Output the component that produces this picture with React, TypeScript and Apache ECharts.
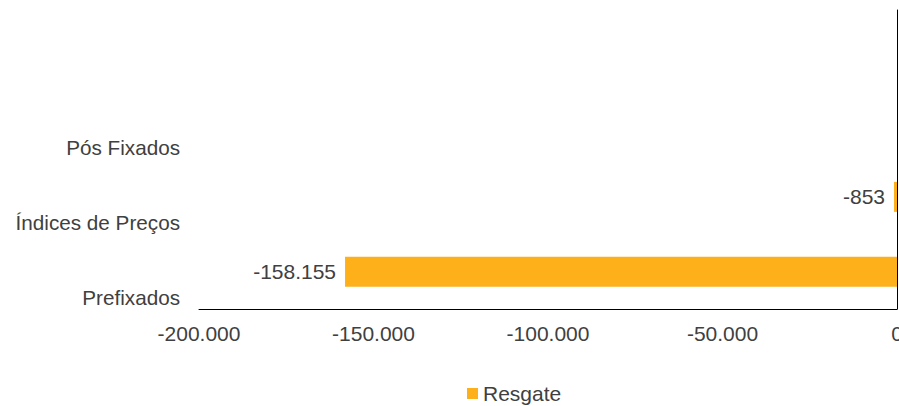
import React, { useEffect, useRef } from "react";
import * as echarts from "echarts";

const categories = ["Prefixados", "Índices de Preços", "Pós Fixados", ""];
const resgate: (number | null)[] = [-158155, -853, null, null];
const xTicks = { min: -200000, max: 0, interval: 50000 };
const seriesName = "Resgate";

const fmt = (v: number) => {
  const s = Math.abs(Math.round(v)).toString().replace(/\B(?=(\d{3})+(?!\d))/g, ".");
  return (v < 0 ? "-" : "") + s;
};

export default function App() {
  const ref = useRef<HTMLDivElement>(null);
  useEffect(() => {
    document.body.style.margin = "0";
    const chart = echarts.init(ref.current!, null, { renderer: "svg" });
    const font = "Liberation Sans, Arial, sans-serif";
    chart.setOption({
      animation: false,
      textStyle: { fontFamily: font },
      grid: { left: 199, right: 2, top: 10, bottom: 97, containLabel: false, outerBoundsMode: "none" },
      legend: {
        data: [seriesName],
        top: 378,
        left: 462,
        padding: [5, 5, 0, 5],
        itemWidth: 11,
        itemHeight: 11,
        itemGap: 6,
        icon: "rect",
        textStyle: { fontSize: 21, color: "#404040", fontFamily: font },
      },
      xAxis: {
        type: "value",
        min: xTicks.min,
        max: xTicks.max,
        interval: xTicks.interval,
        axisLine: { show: true, onZero: false, lineStyle: { color: "#000", width: 1 } },
        axisTick: { show: false },
        splitLine: { show: false },
        axisLabel: {
          formatter: (v: number) => fmt(v),
          fontSize: 21,
          color: "#404040",
          margin: 14,
          fontFamily: font,
        },
      },
      yAxis: [
        {
          type: "category",
          data: categories,
          position: "left",
          axisLine: { show: false, onZero: false },
          axisTick: { show: false },
          axisLabel: {
            fontSize: 20.7,
            color: "#404040",
            margin: 19,
            verticalAlign: "top",
            lineHeight: 51,
            fontFamily: font,
          },
        },
        {
          type: "category",
          data: categories,
          position: "right",
          axisLine: { show: true, onZero: false, lineStyle: { color: "#000", width: 1 } },
          axisTick: { show: false },
          axisLabel: { show: false },
        },
      ],
      series: [
        {
          name: seriesName,
          type: "bar",
          data: resgate,
          barWidth: 30,
          itemStyle: { color: "#FDB01A" },
          label: {
            show: true,
            position: "left",
            distance: 9,
            formatter: (p: any) => fmt(p.value),
            fontSize: 21,
            color: "#404040",
            fontFamily: font,
          },
        },
      ],
    });
    return () => chart.dispose();
  }, []);
  return <div ref={ref} style={{ width: 899, height: 406 }} />;
}
